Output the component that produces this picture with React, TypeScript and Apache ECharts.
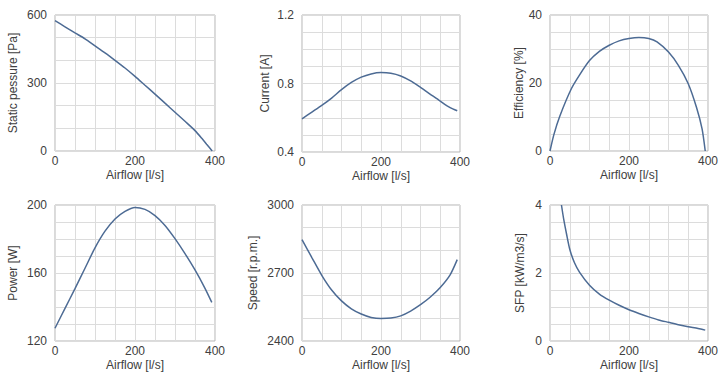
import React, { useEffect, useRef } from "react";
import * as echarts from "echarts";

const pressureFlow = [0, 25, 50, 75, 100, 125, 150, 175, 200, 225, 250, 275, 300, 325, 350, 367, 379, 393];
const pressure = [575, 548, 521, 495, 464, 433, 400, 366, 329, 290, 251, 211, 171, 131, 90, 56, 30, 0];

const currentFlow = [0, 25, 50, 75, 100, 125, 150, 175, 200, 225, 250, 275, 300, 325, 350, 375, 393];
const current = [0.594, 0.633, 0.672, 0.715, 0.764, 0.806, 0.837, 0.856, 0.864, 0.86, 0.844, 0.815, 0.777, 0.737, 0.697, 0.659, 0.641];

const effFlow = [0, 10, 25, 54, 75, 100, 125, 150, 175, 200, 225, 250, 271, 300, 325, 350, 371, 385, 393];
const efficiency = [0, 4.9, 10.3, 18.3, 22.4, 26.6, 29.3, 31.1, 32.4, 33.1, 33.4, 33.1, 32.1, 29.1, 25.2, 19.8, 12.8, 6.5, 0];

const powerFlow = [0, 25, 50, 75, 100, 125, 150, 175, 200, 225, 250, 275, 300, 325, 350, 375, 392];
const power = [127.5, 139.2, 150.8, 162.8, 174.8, 184.6, 191.8, 196.3, 198.6, 197.4, 193.8, 188, 180.2, 171.4, 161.8, 151, 142.7];

const speedFlow = [0, 25, 50, 75, 100, 125, 150, 175, 200, 225, 250, 275, 300, 325, 350, 375, 393];
const speed = [2847, 2768, 2690, 2625, 2577, 2542, 2519, 2504, 2499, 2501, 2511, 2532, 2560, 2594, 2636, 2692, 2759];

const sfpFlow = [29, 35, 42, 50, 62, 75, 100, 125, 150, 175, 200, 225, 250, 275, 300, 325, 350, 375, 393];
const sfp = [4.0, 3.56, 3.14, 2.7, 2.3, 2.02, 1.64, 1.38, 1.2, 1.05, 0.92, 0.81, 0.71, 0.62, 0.55, 0.48, 0.42, 0.37, 0.32];

const xName = "Airflow [l/s]";
const xMin = 0;
const xMax = 400;
const xInterval = 200;

type Panel = {
  name: string;
  flow: number[];
  values: number[];
  min: number;
  max: number;
  interval: number;
  minor: number;
  left: number;
  top: number;
  width: number;
  height: number;
  nameGap: number;
};

const panels: Panel[] = [
  { name: "Static pessure [Pa]", flow: pressureFlow, values: pressure, min: 0, max: 600, interval: 300, minor: 3, left: 55, top: 15, width: 160, height: 136, nameGap: 36 },
  { name: "Current [A]", flow: currentFlow, values: current, min: 0.4, max: 1.2, interval: 0.4, minor: 4, left: 302, top: 15, width: 158, height: 137, nameGap: 31 },
  { name: "Efficiency [%]", flow: effFlow, values: efficiency, min: 0, max: 40, interval: 20, minor: 4, left: 550, top: 15, width: 158, height: 136, nameGap: 24 },
  { name: "Power [W]", flow: powerFlow, values: power, min: 120, max: 200, interval: 40, minor: 4, left: 55, top: 205, width: 160, height: 136, nameGap: 36 },
  { name: "Speed [r.p.m.]", flow: speedFlow, values: speed, min: 2400, max: 3000, interval: 300, minor: 3, left: 302, top: 205, width: 158, height: 136, nameGap: 43 },
  { name: "SFP [kW/m3/s]", flow: sfpFlow, values: sfp, min: 0, max: 4, interval: 2, minor: 4, left: 550, top: 205, width: 158, height: 136, nameGap: 24 },
];

const gridLine = "#dcdcdc";
const border = "#b4b4b4";
const labelColor = "#404040";
const nameColor = "#404040";
const lineColor = "#4d6b94";
const font = "'Liberation Sans', Arial, sans-serif";

export default function App() {
  const ref = useRef<HTMLDivElement>(null);
  useEffect(() => {
    if (!ref.current) return;
    const chart = echarts.init(ref.current, null, { renderer: "svg" });
    const option: any = {
      animation: false,
      backgroundColor: "#ffffff",
      textStyle: { fontFamily: font },
      grid: panels.map((p) => ({
        left: p.left,
        top: p.top,
        width: p.width,
        height: p.height,
        show: true,
        borderColor: border,
        borderWidth: 1,
        backgroundColor: "transparent",
      })),
      xAxis: panels.map((p, i) => ({
        type: "value",
        gridIndex: i,
        min: xMin,
        max: xMax,
        interval: xInterval,
        name: xName,
        nameLocation: "middle",
        nameGap: 18,
        nameTextStyle: { color: nameColor, fontSize: 12, fontFamily: font },
        axisLine: { show: false },
        axisTick: { show: false },
        axisLabel: { color: labelColor, fontSize: 12, margin: 4, fontFamily: font, formatter: (v: number) => String(v) },
        splitLine: { show: true, lineStyle: { color: gridLine, width: 1 } },
        minorTick: { show: false, splitNumber: 4 },
        minorSplitLine: { show: true, lineStyle: { color: gridLine, width: 1 } },
      })),
      yAxis: panels.map((p, i) => ({
        type: "value",
        gridIndex: i,
        min: p.min,
        max: p.max,
        interval: p.interval,
        name: p.name,
        nameLocation: "middle",
        nameRotate: 90,
        nameGap: p.nameGap,
        nameTextStyle: { color: nameColor, fontSize: 12, fontFamily: font },
        axisLine: { show: false },
        axisTick: { show: false },
        axisLabel: { color: labelColor, fontSize: 12, margin: 8, fontFamily: font, formatter: (v: number) => String(Math.round(v * 10) / 10) },
        splitLine: { show: true, lineStyle: { color: gridLine, width: 1 } },
        minorTick: { show: false, splitNumber: p.minor },
        minorSplitLine: { show: true, lineStyle: { color: gridLine, width: 1 } },
      })),
      series: panels.map((p, i) => ({
        type: "line",
        xAxisIndex: i,
        yAxisIndex: i,
        data: p.flow.map((f, j) => [f, p.values[j]]),
        showSymbol: false,
        smooth: 0.25,
        clip: true,
        lineStyle: { color: lineColor, width: 1.5 },
      })),
    };
    chart.setOption(option);
    return () => chart.dispose();
  }, []);
  return (
    <div
      ref={ref}
      style={{ position: "fixed", left: 0, top: 0, width: 725, height: 380 }}
    />
  );
}
